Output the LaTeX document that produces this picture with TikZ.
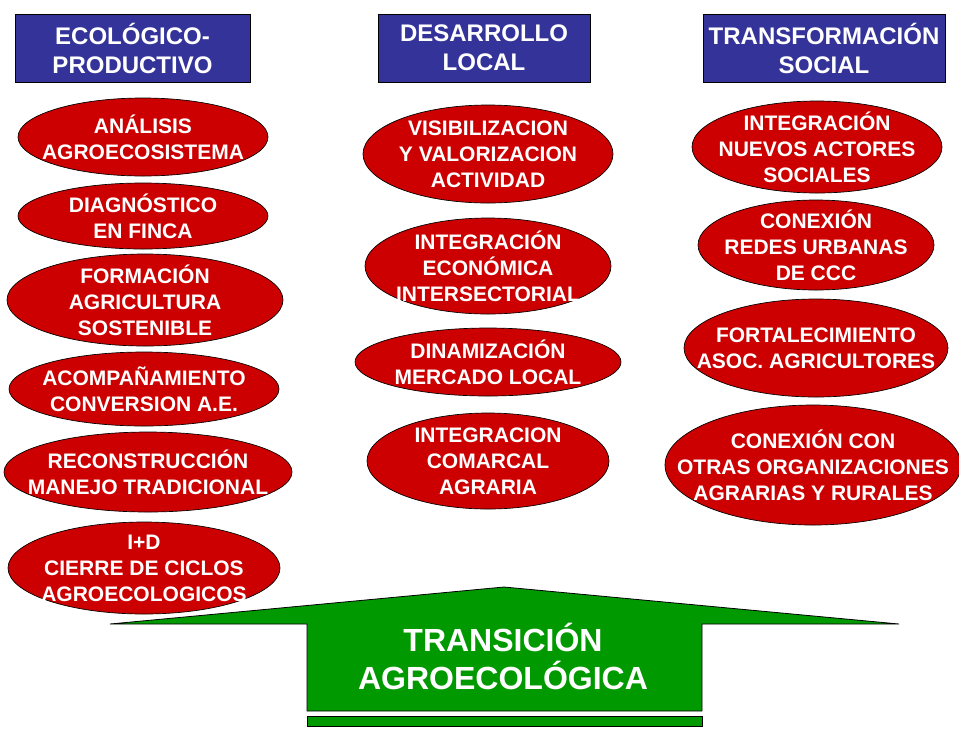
\documentclass[tikz,border=0pt]{standalone}
\usepackage{fontspec}
\setmainfont{Liberation Sans}
\usepackage{xcolor}
\usepackage{tikz}
\usetikzlibrary{shapes.geometric, positioning, calc}
\definecolor{azulcab}{HTML}{333399}
\definecolor{rojoeli}{HTML}{CC0000}
\definecolor{verdeflecha}{HTML}{009900}
\tikzset{
  header/.style={rectangle, draw=black, fill=azulcab, line width=0.6pt, minimum width=235*0.75pt, minimum height=68*0.75pt, inner sep=0pt}, % column titles
  headertext/.style={text=white, align=center, inner sep=0pt, font=\bfseries\fontsize{18}{21.75}\selectfont},
  blob/.style={ellipse, draw=black, fill=rojoeli, line width=0.5pt, inner sep=0pt}, % red ellipse
  blobtext/.style={text=white, align=center, inner sep=0pt, font=\bfseries\fontsize{15.75}{19.5}\selectfont},
  bigarrow/.style={draw=black, fill=verdeflecha, line width=0.6pt},
  arrowtext/.style={text=white, align=center, inner sep=0pt, font=\bfseries\fontsize{24}{28.5}\selectfont}
}
% ellipse of given size (in px) with its text on top
\newcommand{\blobnode}[6]{%
  \node[blob, minimum width=#4*1.5pt, minimum height=#5*1.5pt] (#1) at (#2,#3) {};
  \node[blobtext] (#1-t) at (#1.center) {#6};
}

\begin{document}
\begin{tikzpicture}[x=0.75pt, y=-0.75pt]
    \useasboundingbox (0,0) rectangle (959,729);

    % Headers
    \node[header] (ecoH) at (132.5,48) {};
    \node[headertext] (ecoT) at (ecoH.center) {ECOLÓGICO-\\PRODUCTIVO};
    \node[header, minimum width=212*0.75pt] (desH) at (484,48) {};
    \node[headertext] (desT) at (desH.center) {DESARROLLO\\LOCAL};
    \node[header, minimum width=242*0.75pt] (traH) at (824,48) {};
    \node[headertext] (traT) at (traH.center) {TRANSFORMACIÓN\\SOCIAL};

    % Ecologico-productivo column
    \blobnode{analisis}{143}{137}{125}{39}{ANÁLISIS\\AGROECOSISTEMA}
    \blobnode{diagnostico}{143}{216}{125}{33}{DIAGNÓSTICO\\EN FINCA}
    \blobnode{formacion}{145}{300}{138}{46}{FORMACIÓN\\AGRICULTURA\\SOSTENIBLE}
    \blobnode{acompana}{144}{389}{135}{37}{ACOMPAÑAMIENTO\\CONVERSION A.E.}
    \blobnode{reconstr}{148}{472}{144}{40}{RECONSTRUCCIÓN\\MANEJO TRADICIONAL}
    \blobnode{imasd}{144}{568}{136}{46}{I+D\\CIERRE DE CICLOS\\AGROECOLOGICOS}

    % Desarrollo local column
    \blobnode{visib}{488}{154}{125}{49}{VISIBILIZACION\\Y VALORIZACION\\ACTIVIDAD}
    \blobnode{integeco}{488}{266}{123}{48}{INTEGRACIÓN\\ECONÓMICA\\INTERSECTORIAL}
    \blobnode{dinam}{488}{362}{133}{34}{DINAMIZACIÓN\\MERCADO LOCAL}
    \blobnode{integcom}{488}{461}{121}{48}{INTEGRACION\\COMARCAL\\AGRARIA}

    % Transformacion social column
    \blobnode{nuevos}{817}{147}{125}{46}{INTEGRACIÓN\\NUEVOS ACTORES\\SOCIALES}
    \blobnode{redes}{816}{245}{118}{45}{CONEXIÓN\\REDES URBANAS\\DE CCC}
    \blobnode{fortal}{816}{348}{132}{49}{FORTALECIMIENTO\\ASOC. AGRICULTORES}
    \blobnode{otras}{813}{465}{148}{60}{CONEXIÓN CON\\OTRAS ORGANIZACIONES\\AGRARIAS Y RURALES}

    % Green arrow
    \coordinate (tip) at (504,587);
    \coordinate (wingL) at (110,624);
    \coordinate (wingR) at (899,624);
    \draw[bigarrow] (wingL) -- (tip) -- (wingR) -- (702,624) -- (702,711) -- (307,711) -- (307,624) -- cycle;
    \draw[bigarrow] (307,716) rectangle (702,726);
    \node[arrowtext] (transicion) at (503,656) {TRANSICIÓN\\AGROECOLÓGICA};

\end{tikzpicture}
\end{document}
